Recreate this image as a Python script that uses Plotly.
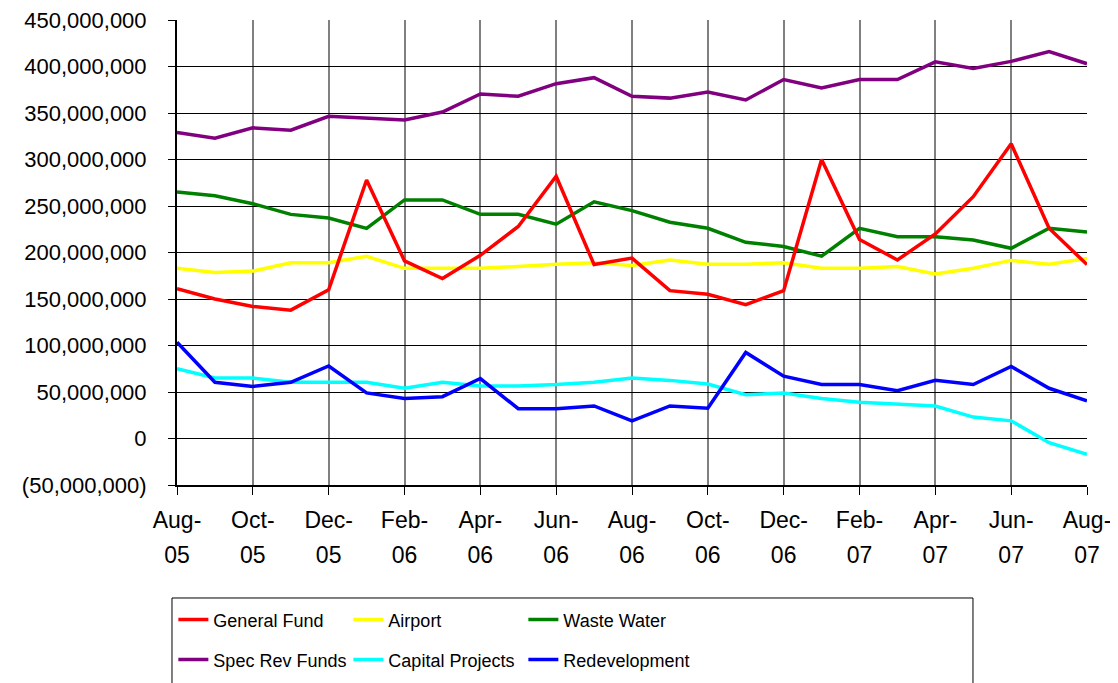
import plotly.graph_objects as go

months = ["Aug-05", "Sep-05", "Oct-05", "Nov-05", "Dec-05", "Jan-06", "Feb-06", "Mar-06",
          "Apr-06", "May-06", "Jun-06", "Jul-06", "Aug-06", "Sep-06", "Oct-06", "Nov-06",
          "Dec-06", "Jan-07", "Feb-07", "Mar-07", "Apr-07", "May-07", "Jun-07", "Jul-07", "Aug-07"]

general_fund = [161, 150, 142, 138, 160, 278, 191, 172, 197, 228, 282, 187, 194, 159, 155, 144,
                159, 300, 214, 192, 220, 260, 317, 226, 187]
airport = [183, 178.5, 180, 189, 189, 196, 183, 183, 183, 185, 187.5, 189, 186, 192, 187.5, 187.5,
           189, 183, 183, 185, 177, 183, 191.5, 187.5, 193.5]
waste_water = [265, 261, 252.5, 241, 237, 226, 256.5, 256.5, 241, 241, 230.5, 254.5, 245, 232.5,
               226, 211, 206.5, 196, 226, 217, 217, 213.5, 204.5, 226, 222]
spec_rev_funds = [329, 323, 334, 331.5, 346.5, 344.5, 342.5, 351, 370.5, 368, 381.5, 388, 368, 366,
                  372.5, 364, 386, 377, 386, 386, 405, 398, 405.5, 416, 403]
capital_projects = [75, 65, 65, 60.5, 60.5, 60.5, 54, 60.5, 56.5, 56.5, 58, 60.5, 65, 62.5, 58.5,
                    47, 49, 43, 39, 37, 35, 23, 19, -4.5, -17]
redevelopment = [103.5, 60.5, 56, 60.5, 78, 49, 43, 45, 64.5, 32, 32, 35, 19, 35, 32.5, 92.5, 67,
                 58, 58, 51.5, 62.5, 58, 77.5, 54, 40.5]

y_tickvals = [-50e6, 0, 50e6, 100e6, 150e6, 200e6, 250e6, 300e6, 350e6, 400e6, 450e6]
y_ticktext = ["(50,000,000)", "0", "50,000,000", "100,000,000", "150,000,000", "200,000,000",
              "250,000,000", "300,000,000", "350,000,000", "400,000,000", "450,000,000"]

x_tickvals = months[::2]
x_month_text = [m.split("-")[0] + "-" for m in x_tickvals]
x_year_text = [m.split("-")[1] for m in x_tickvals]

# (name, values, colour, legend, rank, x axis) in drawing order
series = [
    ("Airport", airport, "#FFFF00", "legend", 2, "x"),
    ("Waste Water", waste_water, "#008000", "legend", 3, "x"),
    ("General Fund", general_fund, "#FF0000", "legend", 1, "x"),
    ("Spec Rev Funds", spec_rev_funds, "#800080", "legend2", 4, "x"),
    ("Capital Projects", capital_projects, "#00FFFF", "legend2", 5, "x"),
    ("Redevelopment", redevelopment, "#0000FF", "legend2", 6, "x2"),
]

FONT = "Arial, Liberation Sans, sans-serif"
LFONT = "Arial, Liberation Sans, sans-serif"

fig = go.Figure()
for name, vals, color, leg, rank, xa in series:
    fig.add_trace(go.Scatter(
        x=months, y=[v * 1e6 for v in vals], mode="lines", name=name,
        line=dict(color=color, width=3.5), legend=leg, legendrank=rank,
        xaxis=xa, yaxis="y", hoverinfo="skip",
    ))

# the page body adds an 8px offset, so the figure is 8px smaller and margins compensate
fig.update_layout(
    width=1110, height=675, autosize=False,
    margin=dict(l=169, r=31, t=12, b=198, pad=0, autoexpand=False),
    paper_bgcolor="white", plot_bgcolor="white",
    font=dict(family=FONT, size=23, color="black"),
    xaxis=dict(
        type="category", categoryorder="array", categoryarray=months,
        range=[0, 24], tickmode="array", tickvals=x_tickvals, ticktext=x_month_text,
        showgrid=True, gridcolor="#808080", gridwidth=1.5,
        showline=True, linecolor="black", linewidth=1.5,
        ticks="outside", ticklen=8, tickcolor="black", tickwidth=1.2,
        ticklabelstandoff=6, tickangle=0, automargin=False, ticklabeloverflow="allow",
        tickfont=dict(family=FONT, size=23, color="black"),
        zeroline=False,
    ),
    xaxis2=dict(
        type="category", categoryorder="array", categoryarray=months,
        overlaying="x", anchor="y", side="bottom",
        range=[0, 24], tickmode="array", tickvals=x_tickvals, ticktext=x_year_text,
        showgrid=False, showline=False, ticks="", ticklen=8,
        ticklabelstandoff=54, tickangle=0, automargin=False, ticklabeloverflow="allow",
        tickfont=dict(family=FONT, size=23, color="black"),
        zeroline=False,
    ),
    yaxis=dict(
        range=[-50e6, 450e6], tickmode="array", tickvals=y_tickvals, ticktext=y_ticktext,
        showgrid=True, gridcolor="black", gridwidth=1,
        showline=True, linecolor="black", linewidth=2,
        ticks="outside", ticklen=7, tickcolor="black", tickwidth=1.2,
        ticklabelstandoff=17, automargin=False, ticklabeloverflow="allow",
        tickfont=dict(family=FONT, size=22, color="black"),
        zeroline=False,
    ),
    legend=dict(
        orientation="h", x=-0.004, xanchor="left", y=-0.29, yanchor="middle",
        entrywidth=130, entrywidthmode="pixels", itemwidth=30,
        font=dict(family=LFONT, size=18, color="black"),
        bgcolor="rgba(0,0,0,0)", borderwidth=0, traceorder="normal",
    ),
    legend2=dict(
        orientation="h", x=-0.004, xanchor="left", y=-0.376, yanchor="middle",
        entrywidth=130, entrywidthmode="pixels", itemwidth=30,
        font=dict(family=LFONT, size=18, color="black"),
        bgcolor="rgba(0,0,0,0)", borderwidth=0, traceorder="normal",
    ),
    shapes=[dict(type="rect", xref="paper", yref="paper",
                 x0=-0.0055, x1=0.8747, y0=-0.45, y1=-0.243,
                 line=dict(color="black", width=1), fillcolor="rgba(0,0,0,0)", layer="above")],
    showlegend=True,
)

fig.write_html("out.html")
